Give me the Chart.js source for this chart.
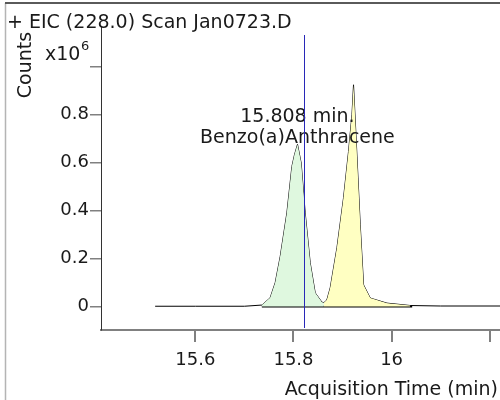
<!DOCTYPE html>
<html>
<head>
<meta charset="utf-8">
<script src="https://cdn.jsdelivr.net/npm/chart.js@4.4.1/dist/chart.umd.min.js"></script>
<style>
  html, body { margin: 0; padding: 0; background: #fff; }
  #wrap { width: 500px; height: 400px; }
</style>
</head>
<body>
<div id="wrap"><canvas id="eicCanvas" width="500" height="400"></canvas></div>
<script>
// Datos del cromatograma (tiempo en min, cuentas en x10^6)
const leadTimes   = [15.518, 15.60, 15.70];
const leadCounts  = [0.001, 0.001, 0.001];

const peak1Times  = [15.7355, 15.7524, 15.7627, 15.7729, 15.7865, 15.7967, 15.8020, 15.8082, 15.8157, 15.8239, 15.8341, 15.8443, 15.8580, 15.8620];
const peak1Counts = [0.006, 0.036, 0.099, 0.208, 0.390, 0.583, 0.632, 0.676, 0.598, 0.390, 0.182, 0.057, 0.018, 0.016];

const peak2Times  = [15.8620, 15.8680, 15.8749, 15.8886, 15.9020, 15.9122, 15.9192, 15.9224, 15.9280, 15.9361, 15.9429, 15.9565, 15.9906, 16.0380];
const peak2Counts = [0.016, 0.027, 0.078, 0.245, 0.453, 0.646, 0.799, 0.924, 0.688, 0.340, 0.090, 0.035, 0.014, 0.004];

const tailTimes   = [16.10, 16.23];
const tailCounts  = [0.002, 0.002];

// linea base de integracion
const integTimes  = [15.7355, 16.042];
const integCounts = [0, 0];

// ejes
const xTickValues = [15.6, 15.8, 16, 16.2];
const yTickValues = [0, 0.2, 0.4, 0.6, 0.8, 1];

// textos
const titleText   = "+ EIC (228.0) Scan Jan0723.D";
const xAxisTitle  = "Acquisition Time (min)";
const yAxisTitle  = "Counts";
const apexTime    = 15.808;
const apexLabel   = "15.808 min.";
const compoundName = "Benzo(a)Anthracene";
const markerTime  = 15.822;

const FONT = "'DejaVu Sans', Verdana, sans-serif";

function toPoints(xs, ys) {
  return xs.map((x, i) => ({ x: x, y: ys[i] }));
}

const decorPlugin = {
  id: "decor",
  beforeDraw(chart) {
    const c = chart.ctx;
    c.save();
    c.fillStyle = "#ffffff";
    c.fillRect(0, 0, chart.width, chart.height);
    // marco
    c.strokeStyle = "#b4b4b4";
    c.lineWidth = 1.5;
    c.beginPath(); c.moveTo(5.5, 3); c.lineTo(5.5, 400); c.stroke();
    c.strokeStyle = "#5a5a5a";
    c.lineWidth = 2;
    c.beginPath(); c.moveTo(5, 3); c.lineTo(500, 3); c.stroke();
    c.restore();
  },
  afterDraw(chart) {
    const c = chart.ctx;
    const xs = chart.scales.x;
    c.save();
    c.fillStyle = "#1a1a1a";
    c.textBaseline = "alphabetic";

    // titulo
    c.font = "19px " + FONT;
    c.textAlign = "left";
    c.fillText(titleText, 7, 28);

    // x10^6
    c.fillText("x10", 45, 60);
    c.font = "13px " + FONT;
    c.fillText("6", 81, 50);

    // Counts (vertical)
    c.font = "19px " + FONT;
    c.save();
    c.translate(31, 65);
    c.rotate(-Math.PI / 2);
    c.textAlign = "center";
    c.fillText(yAxisTitle, 0, 0);
    c.restore();

    // titulo eje x
    c.textAlign = "right";
    c.fillText(xAxisTitle, 498, 395);

    // etiqueta del pico
    const ax = xs.getPixelForValue(apexTime);
    c.textAlign = "center";
    c.fillText(apexLabel, ax, 122);
    c.fillText(compoundName, ax, 143);

    // linea azul del cursor
    const mx = Math.round(xs.getPixelForValue(markerTime)) + 0.5;
    c.strokeStyle = "#2828b8";
    c.lineWidth = 1;
    c.beginPath(); c.moveTo(mx, 35); c.lineTo(mx, 328); c.stroke();
    c.restore();
  }
};

function drawChromatogram() {
  const traceTimes  = leadTimes.concat(peak1Times, peak2Times.slice(1), tailTimes);
  const traceCounts = leadCounts.concat(peak1Counts, peak2Counts.slice(1), tailCounts);

  const ctx = document.getElementById("eicCanvas").getContext("2d");
  new Chart(ctx, {
    type: "line",
    data: {
      datasets: [
        {
          data: toPoints(peak1Times, peak1Counts),
          fill: "origin",
          backgroundColor: "#dff8df",
          borderWidth: 0,
          pointRadius: 0
        },
        {
          data: toPoints(peak2Times, peak2Counts),
          fill: "origin",
          backgroundColor: "#ffffc2",
          borderWidth: 0,
          pointRadius: 0
        },
        {
          data: toPoints(integTimes, integCounts),
          borderColor: "#000000",
          borderWidth: 2,
          pointRadius: 0,
          fill: false
        },
        {
          data: toPoints(traceTimes, traceCounts),
          borderColor: "#000000",
          borderWidth: 1,
          pointRadius: 0,
          fill: false
        }
      ]
    },
    options: {
      responsive: false,
      devicePixelRatio: 1,
      animation: false,
      layout: { padding: { top: 27, right: 0, left: 0, bottom: 0 } },
      plugins: {
        legend: { display: false },
        tooltip: { enabled: false }
      },
      elements: { line: { tension: 0 } },
      scales: {
        x: {
          type: "linear",
          min: 15.4076,
          max: 16.221,
          afterFit: s => { s.height = 70; },
          afterBuildTicks: s => { s.ticks = xTickValues.map(v => ({ value: v })); },
          border: { display: true, color: "#808080", width: 2 },
          grid: { drawOnChartArea: false, color: "#808080", lineWidth: 2, tickLength: 12 },
          ticks: {
            color: "#1a1a1a",
            font: { family: FONT, size: 18 },
            padding: 8,
            maxRotation: 0,
            callback: v => (v > 16.1 ? "" : String(v))
          }
        },
        y: {
          type: "linear",
          min: -0.098,
          max: 1.165,
          afterFit: s => { s.width = 101; },
          afterBuildTicks: s => { s.ticks = yTickValues.map(v => ({ value: v })); },
          border: { display: true, color: "#333333", width: 1 },
          grid: { drawOnChartArea: false, color: "#808080", lineWidth: 1.5, tickLength: 11 },
          ticks: {
            color: "#1a1a1a",
            font: { family: FONT, size: 18 },
            padding: 1,
            callback: v => (v >= 1 ? "" : String(v))
          }
        }
      }
    },
    plugins: [decorPlugin]
  });
}

document.addEventListener("DOMContentLoaded", () => {
  drawChromatogram();
});
</script>
</body>
</html>
